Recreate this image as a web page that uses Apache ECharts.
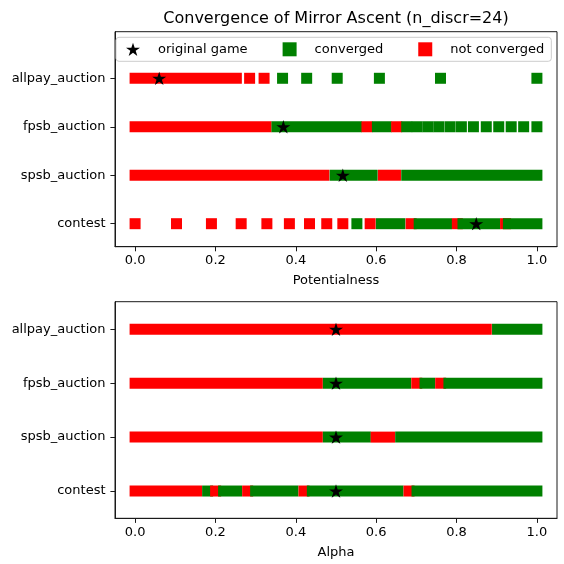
<!DOCTYPE html>
<html>
<head>
<meta charset="utf-8">
<script src="https://cdn.jsdelivr.net/npm/echarts@6/dist/echarts.min.js"></script>
<style>html,body{margin:0;padding:0;background:#fff;}#chart{width:564px;height:564px;}</style>
</head>
<body>
<div id="chart"></div>
<script>
// ---- data ----
// categories, bottom to top on the y axis
const categories = ['contest', 'spsb_auction', 'fpsb_auction', 'allpay_auction'];
const xTicks = [0, 0.2, 0.4, 0.6, 0.8, 1.0];
const legendNames = ['original game', 'converged', 'not converged'];

// segments of markers: [first x, last x, converged (1) / not converged (0)]
// top panel: x = Potentialness
const potContest = [
  [0, 0, 0], [0.103, 0.103, 0], [0.190, 0.190, 0], [0.264, 0.264, 0], [0.328, 0.328, 0],
  [0.384, 0.384, 0], [0.434, 0.434, 0], [0.477, 0.477, 0], [0.517, 0.517, 0],
  [0.552, 0.552, 1], [0.585, 0.585, 0], [0.613, 0.659, 1], [0.687, 0.687, 0],
  [0.707, 0.775, 1], [0.802, 0.802, 0], [0.816, 0.895, 1], [0.922, 0.922, 0], [0.929, 1.0, 1]
];
const potSpsb = [[0, 0.470, 0], [0.498, 0.590, 1], [0.618, 0.648, 0], [0.676, 1.0, 1]];
const potFpsb = [
  [0, 0.326, 0], [0.353, 0.551, 1], [0.577, 0.577, 0], [0.603, 0.625, 1], [0.651, 0.651, 0],
  [0.676, 0.676, 1], [0.702, 0.702, 1], [0.729, 0.729, 1], [0.756, 0.756, 1], [0.784, 0.784, 1],
  [0.812, 0.812, 1], [0.842, 0.842, 1], [0.874, 0.874, 1], [0.905, 0.905, 1], [0.936, 0.936, 1],
  [0.967, 0.967, 1], [1.0, 1.0, 1]
];
const potAllpay = [
  [0, 0.252, 0], [0.285, 0.285, 0], [0.321, 0.321, 0], [0.367, 0.367, 1], [0.427, 0.427, 1],
  [0.503, 0.503, 1], [0.608, 0.608, 1], [0.760, 0.760, 1], [1.0, 1.0, 1]
];
const potStars = [0.849, 0.517, 0.369, 0.060];

// bottom panel: x = Alpha
const alphaContest = [
  [0, 0.153, 0], [0.1805, 0.1805, 1], [0.2004, 0.2004, 0], [0.2203, 0.2527, 1], [0.2801, 0.2801, 0],
  [0.300, 0.3929, 1], [0.4203, 0.4203, 0], [0.4411, 0.6543, 1], [0.6817, 0.6817, 0], [0.7016, 1.0, 1]
];
const alphaSpsb = [[0, 0.4535, 0], [0.481, 0.573, 1], [0.600, 0.6336, 0], [0.661, 1.0, 1]];
const alphaFpsb = [
  [0, 0.4535, 0], [0.481, 0.6734, 1], [0.701, 0.701, 0], [0.7215, 0.733, 1],
  [0.7605, 0.7605, 0], [0.781, 1.0, 1]
];
const alphaAllpay = [[0, 0.874, 0], [0.902, 1.0, 1]];
const alphaStars = [0.5, 0.5, 0.5, 0.5];

// ---- styling ----
const GREEN = '#008000', RED = '#ff0000', FONT = 'DejaVu Sans';
const HALF = 5.5; // half of square marker size in px
const STAR = 'path://M100,0 L122.45,69.1 L195.11,69.1 L136.33,111.8 L158.78,180.9 L100,138.2 L41.22,180.9 L63.67,111.8 L4.89,69.1 L77.55,69.1 Z';
const AXIS_COLOR = '#1a1a1a';

function toItems(rows) {
  const out = [];
  rows.forEach((segs, ci) => segs.forEach(s => out.push([s[0], s[1], ci, s[2]])));
  return out;
}
function starItems(xs) { return xs.map((x, ci) => [x, ci]); }

function renderRuns(params, api) {
  const y = api.value(2);
  const a = api.coord([api.value(0), y]);
  const b = api.coord([api.value(1), y]);
  return {
    type: 'rect',
    shape: { x: a[0] - HALF, y: a[1] - HALF, width: b[0] - a[0] + 2 * HALF, height: 2 * HALF },
    style: { fill: api.value(3) ? GREEN : RED }
  };
}

function xAxisDef(idx, name) {
  return {
    type: 'value', gridIndex: idx, min: -0.05, max: 1.05,
    name: name, nameLocation: 'middle', nameGap: 27.5,
    nameTextStyle: { fontSize: 13, color: '#000', fontFamily: FONT },
    splitLine: { show: false },
    axisLine: { show: true, onZero: false, lineStyle: { color: AXIS_COLOR, width: 1 } },
    axisTick: { show: true, length: 4.6, customValues: xTicks, lineStyle: { color: AXIS_COLOR } },
    axisLabel: { customValues: xTicks, formatter: v => Number(v).toFixed(1), margin: 7.5,
      fontSize: 13, color: '#000', fontFamily: FONT }
  };
}
function yAxisDef(idx, mn, mx) {
  return {
    type: 'value', gridIndex: idx, min: mn, max: mx,
    splitLine: { show: false },
    axisLine: { show: true, onZero: false, lineStyle: { color: AXIS_COLOR, width: 1 } },
    axisTick: { show: true, length: 4.6, customValues: [0, 1, 2, 3], lineStyle: { color: AXIS_COLOR } },
    axisLabel: { customValues: [0, 1, 2, 3], formatter: v => categories[Math.round(v)] || '',
      margin: 9.5, fontSize: 13, color: '#000', fontFamily: FONT }
  };
}

const chart = echarts.init(document.getElementById('chart'), null, { renderer: 'canvas' });
chart.setOption({
  animation: false,
  backgroundColor: '#fff',
  textStyle: { fontFamily: FONT },
  title: {
    text: 'Convergence of Mirror Ascent (n_discr=24)',
    left: 336, textAlign: 'center', top: 10.5, padding: 0,
    textStyle: { fontSize: 16, fontWeight: 'normal', color: '#000', fontFamily: FONT }
  },
  legend: {
    left: 116, top: 37.3, orient: 'horizontal',
    padding: [5, 7, 5, 10], itemGap: 35, itemWidth: 14, itemHeight: 14,
    backgroundColor: 'rgba(255,255,255,0.8)', borderColor: '#cccccc', borderWidth: 1, borderRadius: 3,
    textStyle: { fontSize: 13, color: '#000', fontFamily: FONT, padding: [0, 0, 0, 13] },
    data: [
      { name: legendNames[0], icon: STAR, itemStyle: { color: '#000', opacity: 1 } },
      { name: legendNames[1], icon: 'rect', itemStyle: { color: GREEN, opacity: 1 } },
      { name: legendNames[2], icon: 'rect', itemStyle: { color: RED, opacity: 1 } }
    ]
  },
  grid: [
    { left: 115, top: 31.7, width: 442, height: 215, show: true, borderColor: AXIS_COLOR, borderWidth: 1, backgroundColor: 'transparent' },
    { left: 115, top: 301.7, width: 442, height: 216.6, show: true, borderColor: AXIS_COLOR, borderWidth: 1, backgroundColor: 'transparent' }
  ],
  xAxis: [xAxisDef(0, 'Potentialness'), xAxisDef(1, 'Alpha')],
  yAxis: [yAxisDef(0, -0.4745, 3.961), yAxisDef(1, -0.506, 3.512)],
  series: [
    { type: 'custom', name: 'pot runs', xAxisIndex: 0, yAxisIndex: 0, renderItem: renderRuns,
      encode: { x: [0, 1], y: 2 }, data: toItems([potContest, potSpsb, potFpsb, potAllpay]), z: 2 },
    { type: 'custom', name: 'alpha runs', xAxisIndex: 1, yAxisIndex: 1, renderItem: renderRuns,
      encode: { x: [0, 1], y: 2 }, data: toItems([alphaContest, alphaSpsb, alphaFpsb, alphaAllpay]), z: 2 },
    { type: 'scatter', name: legendNames[1], xAxisIndex: 0, yAxisIndex: 0, data: [], itemStyle: { color: GREEN, opacity: 1 } },
    { type: 'scatter', name: legendNames[2], xAxisIndex: 0, yAxisIndex: 0, data: [], itemStyle: { color: RED, opacity: 1 } },
    { type: 'scatter', name: legendNames[0], xAxisIndex: 0, yAxisIndex: 0, symbol: STAR, symbolSize: 14,
      symbolKeepAspect: true, itemStyle: { color: '#000', opacity: 1 }, data: starItems(potStars), z: 5 },
    { type: 'scatter', name: legendNames[0], xAxisIndex: 1, yAxisIndex: 1, symbol: STAR, symbolSize: 14,
      symbolKeepAspect: true, itemStyle: { color: '#000', opacity: 1 }, data: starItems(alphaStars), z: 5 }
  ]
});
</script>
</body>
</html>
